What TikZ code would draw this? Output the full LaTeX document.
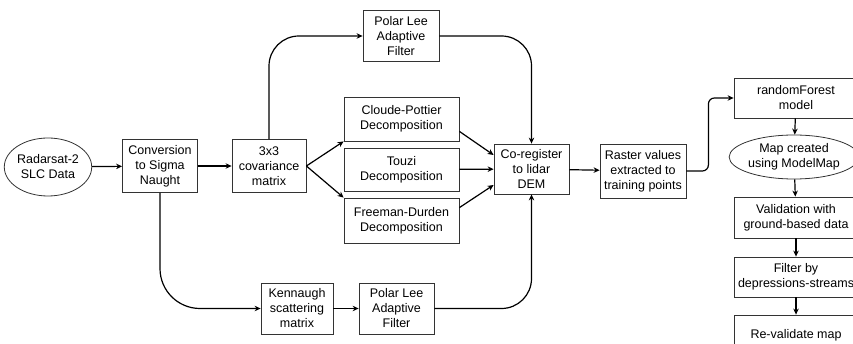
\documentclass[tikz,border=0pt]{standalone}
\usepackage{fontspec}
\setmainfont{Liberation Sans}
\usetikzlibrary{arrows.meta,shapes}
\tikzstyle{box}=[draw=black!80,line width=0.8pt,align=center,inner sep=0pt,font=\fontsize{12.5}{15}\selectfont]
\tikzstyle{oval box}=[box,ellipse]
\tikzstyle{link}=[draw,line width=1.2pt,-{Stealth[length=6pt,width=5.5pt]}]
\tikzstyle{bend link}=[link,rounded corners=30pt]

\begin{document}
\begin{tikzpicture}[x=1pt,y=-1pt]
    \useasboundingbox (0,0) rectangle (853,344);
    % Input data
    \node[oval box,minimum width=78pt,minimum height=58pt] (radar) at (48,167) {Radarsat-2\\SLC Data};
    % Processing steps
    \foreach \pos/\name/\w/\h/\txt in {{(160,166)/conv/75/53/Conversion\\to Sigma\\Naught},
        {(269,166)/cov/74/53/3x3\\covariance\\matrix},
        {(401,36)/leetop/76/51/Polar Lee\\Adaptive\\Filter},
        {(401.5,119)/cloude/115/44/Cloude-Pottier\\Decomposition},
        {(401.5,169.5)/touzi/115/43/Touzi\\Decomposition},
        {(401.5,220.5)/freeman/115/45/Freeman-Durden\\Decomposition},
        {(297,308.5)/kenn/72/51/Kennaugh\\scattering\\matrix},
        {(396.5,308.5)/leebot/75/51/Polar Lee\\Adaptive\\Filter},
        {(531.5,169)/coreg/75/50/Co-register\\to lidar\\DEM},
        {(643,171)/raster/86/54/Raster values\\extracted to\\training points}}
        \node[box,minimum width=\w pt,minimum height=\h pt] (\name) at \pos {\txt};
    % Model and validation
    \foreach \pos/\name/\h/\txt in {{(796,98)/rf/40/randomForest\\model},
        {(796,217.5)/valid/41/Validation with\\ground-based data},
        {(796,277)/filter/40/Filter by\\depressions-streams},
        {(796,335)/reval/40/Re-validate map}}
        \node[box,minimum width=124pt,minimum height=\h pt] (\name) at \pos {\txt};
    \node[oval box,minimum width=121pt,minimum height=44pt] (map) at (794,157) {Map created\\using ModelMap};

    % Straight connectors
    \foreach \source/\dest in {radar/conv, conv/cov, touzi/coreg, kenn/leebot, coreg/raster, rf/map, map/valid, valid/filter, filter/reval}
        \path[link] (\source) -- (\dest);
    \path[link] (cov.east) -- (cloude.south west);
    \path[link] (cov.east) -- (freeman.north west);
    \path[link] ([yshift=10pt]cloude.south east) -- ([yshift=14pt]coreg.west);
    \path[link] ([yshift=-10pt]freeman.north east) -- ([yshift=-16pt]coreg.west);

    % Curved connectors
    \path[bend link] (cov.north) |- (leetop.west);
    \path[bend link] (leetop.east) -| (coreg.north);
    \path[link,rounded corners=40pt] (conv.south) |- (kenn.west);
    \path[bend link] (leebot.east) -| (coreg.south);
    \path[link,rounded corners=6pt] (raster.east) -- ++(22,0) |- (rf.west);
\end{tikzpicture}
\end{document}
